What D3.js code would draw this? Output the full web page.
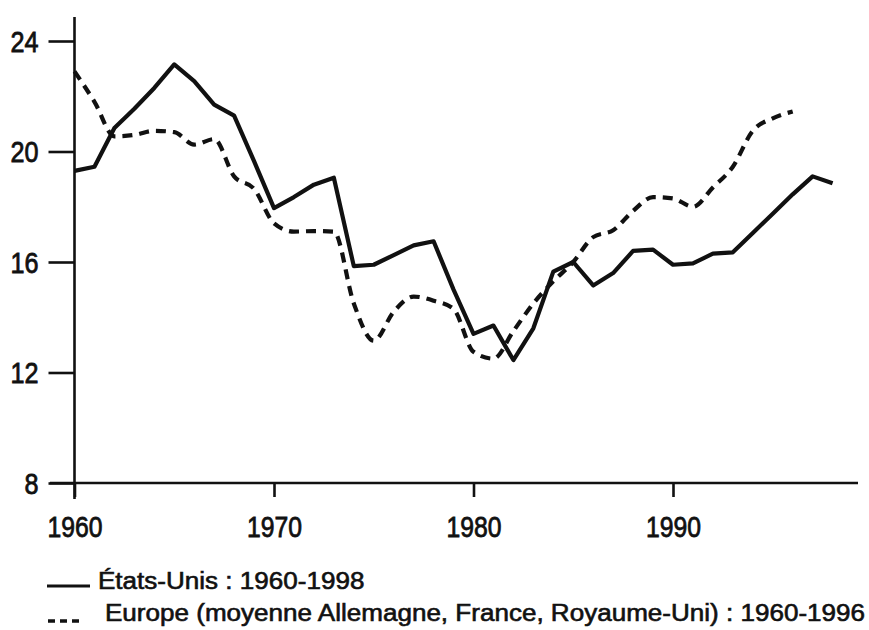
<!DOCTYPE html>
<html>
<head>
<meta charset="utf-8">
<script src="https://cdn.jsdelivr.net/npm/d3@7"></script>
<style>
  body { margin: 0; background: #fff; }
  svg text { font-family: "Liberation Sans", Arial, sans-serif; fill: #111; }
</style>
</head>
<body>
<div id="chart"></div>
<script>
// États-Unis 1960-1998
const usYears = [1960, 1961, 1962, 1963, 1964, 1965, 1966, 1967, 1968, 1969,
                 1970, 1971, 1972, 1973, 1974, 1975, 1976, 1977, 1978, 1979,
                 1980, 1981, 1982, 1983, 1984, 1985, 1986, 1987, 1988, 1989,
                 1990, 1991, 1992, 1993, 1994, 1995, 1996, 1997, 1998];
const usValues = [19.3, 19.45, 20.85, 21.55, 22.3, 23.15, 22.55, 21.7, 21.3, 19.65,
                  17.95, 18.35, 18.8, 19.05, 15.85, 15.9, 16.25, 16.6, 16.75, 15.0,
                  13.4, 13.7, 12.45, 13.6, 15.65, 16.0, 15.15, 15.6, 16.4, 16.45,
                  15.9, 15.95, 16.3, 16.35, 17.05, 17.75, 18.45, 19.1, 18.85];

// Europe (moyenne Allemagne, France, Royaume-Uni) 1960-1996
const euYears = [1960, 1961, 1962, 1963, 1964, 1965, 1966, 1967, 1968, 1969,
                 1970, 1971, 1972, 1973, 1974, 1975, 1976, 1977, 1978, 1979,
                 1980, 1981, 1982, 1983, 1984, 1985, 1986, 1987, 1988, 1989,
                 1990, 1991, 1992, 1993, 1994, 1995, 1996];
const euValues = [22.9, 21.8, 20.55, 20.6, 20.75, 20.7, 20.25, 20.45, 19.1, 18.65,
                  17.4, 17.1, 17.12, 17.1, 14.5, 13.15, 14.2, 14.75, 14.6, 14.3,
                  12.75, 12.5, 13.5, 14.5, 15.3, 16.0, 16.9, 17.15, 17.85, 18.35,
                  18.3, 18.0, 18.7, 19.45, 20.75, 21.2, 21.45];

const xTicks = [1960, 1970, 1980, 1990];
const yTicks = [8, 12, 16, 20, 24];

const legendLabels = ["États-Unis : 1960-1998",
                      "Europe (moyenne Allemagne, France, Royaume-Uni) : 1960-1996"];

const width = 869, height = 630;

let svg = d3.select("#chart").append("svg")
    .attr("width", width)
    .attr("height", height);

let x = d3.scaleLinear().domain([1960, 1990]).range([74.5, 673]);
let y = d3.scaleLinear().domain([8, 24]).range([483, 41]);

// axes lines
svg.append("line")
    .attr("x1", 50).attr("x2", 858)
    .attr("y1", y(8)).attr("y2", y(8))
    .attr("stroke", "#111").attr("stroke-width", 2.6);
svg.append("line")
    .attr("x1", x(1960)).attr("x2", x(1960))
    .attr("y1", 17).attr("y2", 499)
    .attr("stroke", "#111").attr("stroke-width", 2.6);

let xAxis = svg.append("g")
    .attr("transform", "translate(0," + y(8) + ")")
    .call(d3.axisBottom(x).tickValues(xTicks).tickFormat(d3.format("d"))
        .tickSize(14).tickPadding(22));
xAxis.select(".domain").remove();

let yAxis = svg.append("g")
    .attr("transform", "translate(" + x(1960) + ",0)")
    .call(d3.axisLeft(y).tickValues(yTicks).tickSize(26).tickPadding(10));
yAxis.select(".domain").remove();

svg.selectAll(".tick line").attr("stroke", "#111").attr("stroke-width", 2.6);
svg.selectAll(".tick text")
    .style("font-family", "'Liberation Sans', Arial, sans-serif")
    .style("font-size", "29px")
    .style("stroke", "#111")
    .style("stroke-width", "0.8px")
    .attr("fill", "#111")
    .attr("lengthAdjust", "spacingAndGlyphs");
xAxis.selectAll(".tick text")
    .attr("y", 54).attr("dy", 0)
    .attr("textLength", 55);
yAxis.selectAll(".tick text")
    .attr("dy", "0.36em")
    .attr("textLength", function(d) { return String(d).length * 14; });

// series
let usData = usYears.map(function(d, i) { return { year: d, value: usValues[i] }; });
let euData = euYears.map(function(d, i) { return { year: d, value: euValues[i] }; });

let line = d3.line()
    .x(function(d) { return x(d.year); })
    .y(function(d) { return y(d.value); });

svg.append("path")
    .datum(euData)
    .attr("fill", "none")
    .attr("stroke", "#111")
    .attr("stroke-width", 4.2)
    .attr("stroke-dasharray", "10,7")
    .attr("d", line.curve(d3.curveMonotoneX));

svg.append("path")
    .datum(usData)
    .attr("fill", "none")
    .attr("stroke", "#111")
    .attr("stroke-width", 4.2)
    .attr("stroke-linejoin", "round")
    .attr("d", line.curve(d3.curveLinear));

// legend
let legend = svg.append("g");
legend.append("line")
    .attr("x1", 47).attr("x2", 90).attr("y1", 586).attr("y2", 586)
    .attr("stroke", "#111").attr("stroke-width", 3);
legend.append("line")
    .attr("x1", 48).attr("x2", 82).attr("y1", 621).attr("y2", 621)
    .attr("stroke", "#111").attr("stroke-width", 3.5)
    .attr("stroke-dasharray", "7,5");

let t1 = legend.append("text")
    .attr("x", 98).attr("y", 589)
    .style("font-size", "23px")
    .style("stroke", "#111").style("stroke-width", "0.6px")
    .text(legendLabels[0]);
let t2 = legend.append("text")
    .attr("x", 105).attr("y", 621)
    .style("font-size", "23px")
    .style("stroke", "#111").style("stroke-width", "0.6px")
    .text(legendLabels[1]);

let ratio = 760 / t2.node().getComputedTextLength();
t2.attr("textLength", 760).attr("lengthAdjust", "spacingAndGlyphs");
t1.attr("textLength", t1.node().getComputedTextLength() * ratio)
  .attr("lengthAdjust", "spacingAndGlyphs");
</script>
</body>
</html>
